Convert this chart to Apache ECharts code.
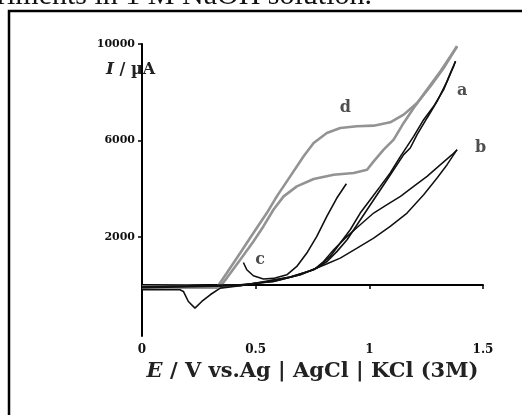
<!DOCTYPE html>
<html><head><meta charset="utf-8">
<script src="https://cdn.jsdelivr.net/npm/echarts@6/dist/echarts.min.js"></script>
<style>html,body{margin:0;padding:0;background:#fff;overflow:hidden}#c{width:522px;height:415px}</style>
</head><body><div id="c"></div>
<script>
// Tick labels
const xTicks = [0, 0.5, 1, 1.5];
const yTicks = [2000, 6000, 10000];

// Curve d (grey) – forward and reverse branches [E (V), I (µA)]
const dForward = [[0,-150],[0.1,-130],[0.2,-110],[0.329,-120],[0.373,491],[0.432,1322],[0.49,2153],[0.549,2983],[0.593,3675],[0.652,4506],[0.711,5337],[0.755,5891],[0.813,6306],[0.872,6514],[0.945,6583],[1.019,6610],[1.092,6750],[1.151,7068],[1.21,7553],[1.269,8244],[1.327,9006],[1.386,9905]];
const dReverse = [[1.386,9905],[1.357,9490],[1.313,8867],[1.254,8106],[1.195,7345],[1.151,6723],[1.107,6029],[1.063,5614],[1.019,5128],[0.99,4783],[0.931,4646],[0.843,4575],[0.755,4396],[0.681,4090],[0.623,3675],[0.578,3122],[0.534,2428],[0.49,1806],[0.432,1045],[0.373,284],[0.344,-64],[0.2,-40],[0,-60]];

// Curve a (black)
const aForward = [[0,-64],[0.2,-40],[0.432,6],[0.578,143],[0.696,421],[0.769,699],[0.828,1183],[0.872,1737],[0.916,2291],[0.96,2983],[1.004,3537],[1.048,4090],[1.092,4646],[1.137,5337],[1.166,5751],[1.195,6167],[1.239,6860],[1.283,7414],[1.327,8106],[1.357,8800],[1.379,9282]];
const aReverse = [[1.379,9282],[1.371,9075],[1.342,8451],[1.298,7620],[1.254,6930],[1.21,6237],[1.18,5683],[1.151,5406],[1.122,4991],[1.078,4368],[1.034,3745],[0.99,3122],[0.946,2498],[0.902,1875],[0.858,1392],[0.814,974],[0.755,629],[0.652,326],[0.549,143],[0.432,-36],[0.344,-131],[0.3,-409],[0.263,-688],[0.233,-962],[0.204,-688],[0.182,-272],[0.167,-202],[0,-200]];

// Curve b (black)
const bForward = [[0,-100],[0.432,0],[0.578,140],[0.696,420],[0.769,700],[0.814,878],[0.872,1114],[0.946,1529],[1.019,1944],[1.092,2428],[1.166,2983],[1.239,3745],[1.298,4437],[1.342,4991],[1.386,5614]];
const bReverse = [[1.386,5614],[1.364,5406],[1.313,4991],[1.254,4506],[1.195,4090],[1.137,3675],[1.078,3329],[1.019,2983],[0.96,2498],[0.902,2014],[0.843,1460],[0.799,974],[0.755,629],[0.652,326],[0.432,-36],[0,-120]];

// Curve c (black)
const cCurve = [[0.446,932],[0.461,629],[0.49,380],[0.534,243],[0.578,270],[0.637,421],[0.681,767],[0.725,1322],[0.769,2014],[0.813,2844],[0.857,3606],[0.899,4202]];

// Curve letters placed in data coordinates
const curveLabels = [['a',1.408,8036],['b',1.489,5697],['c',0.52,1045],['d',0.894,7359]];

const SERIF = '"Liberation Serif","DejaVu Serif",serif';
const WIDE = '"DejaVu Serif","Liberation Serif",serif';
const chart = echarts.init(document.getElementById('c'), null, {renderer:'canvas'});

function line(data, color, width){
  return {type:'line', data:data, showSymbol:false, symbol:'none', smooth:false,
    lineStyle:{color:color, width:width}, animation:false, z:3};
}

chart.setOption({
  animation:false,
  backgroundColor:'#fff',
  grid:{left:142, right:39, top:44, bottom:79},
  xAxis:{type:'value', min:0, max:1.5, interval:0.5,
    axisLine:{show:true, lineStyle:{color:'#000', width:2}},
    axisTick:{show:true, inside:false, length:4, lineStyle:{color:'#000', width:1.5}},
    axisLabel:{color:'#111', fontFamily:WIDE, fontWeight:'bold', fontSize:12, margin:8,
      formatter:function(v){ return xTicks.indexOf(v) >= 0 ? String(v) : ''; }},
    splitLine:{show:false},
    name:'{i|E} / V vs.Ag | AgCl | KCl (3M)', nameLocation:'middle', nameGap:24,
    nameTextStyle:{color:'#222', fontFamily:WIDE, fontWeight:'bold', fontSize:21,
      rich:{i:{fontStyle:'italic', fontWeight:'bold', fontFamily:WIDE, fontSize:21, color:'#222'}}}
  },
  yAxis:{type:'value', min:-2120, max:10000,
    axisLine:{show:true, lineStyle:{color:'#000', width:2}},
    axisTick:{show:true, inside:false, length:4, customValues:yTicks, lineStyle:{color:'#000', width:1.5}},
    axisLabel:{color:'#111', fontFamily:WIDE, fontWeight:'bold', fontSize:11, margin:7, customValues:yTicks,
      formatter:function(v){ return String(v); }},
    splitLine:{show:false}
  },
  graphic:[
    {type:'rect', shape:{x:9, y:11, width:620, height:520}, style:{fill:'none', stroke:'#000', lineWidth:2.5}, z:1},
    {type:'text', left:-3, top:-19, style:{text:'riments in 1 M NaOH solution.', font:'30px '+SERIF, fill:'#111'}},
    {type:'text', left:106, top:61, style:{rich:{i:{fontStyle:'italic', fontWeight:'bold', fontSize:17, fontFamily:WIDE, fill:'#222'}, n:{fontWeight:'bold', fontSize:16, fontFamily:WIDE, fill:'#222'}}, text:'{i|I}{n| / µA}'}}
  ],
  series:[
    line(dForward,'#939393',2.6),
    line(dReverse,'#939393',2.6),
    line(aForward,'#111',1.6),
    line(aReverse,'#111',1.6),
    line(bForward,'#111',1.5),
    line(bReverse,'#111',1.5),
    line(cCurve,'#111',1.6),
    {type:'scatter', data:curveLabels.map(function(r){return {name:r[0], value:[r[1], r[2]]};}),
      symbolSize:0, silent:true, animation:false,
      label:{show:true, position:'inside', formatter:'{b}', color:'#222', fontFamily:WIDE, fontWeight:'bold', fontSize:16}}
  ]
});
</script></body></html>
